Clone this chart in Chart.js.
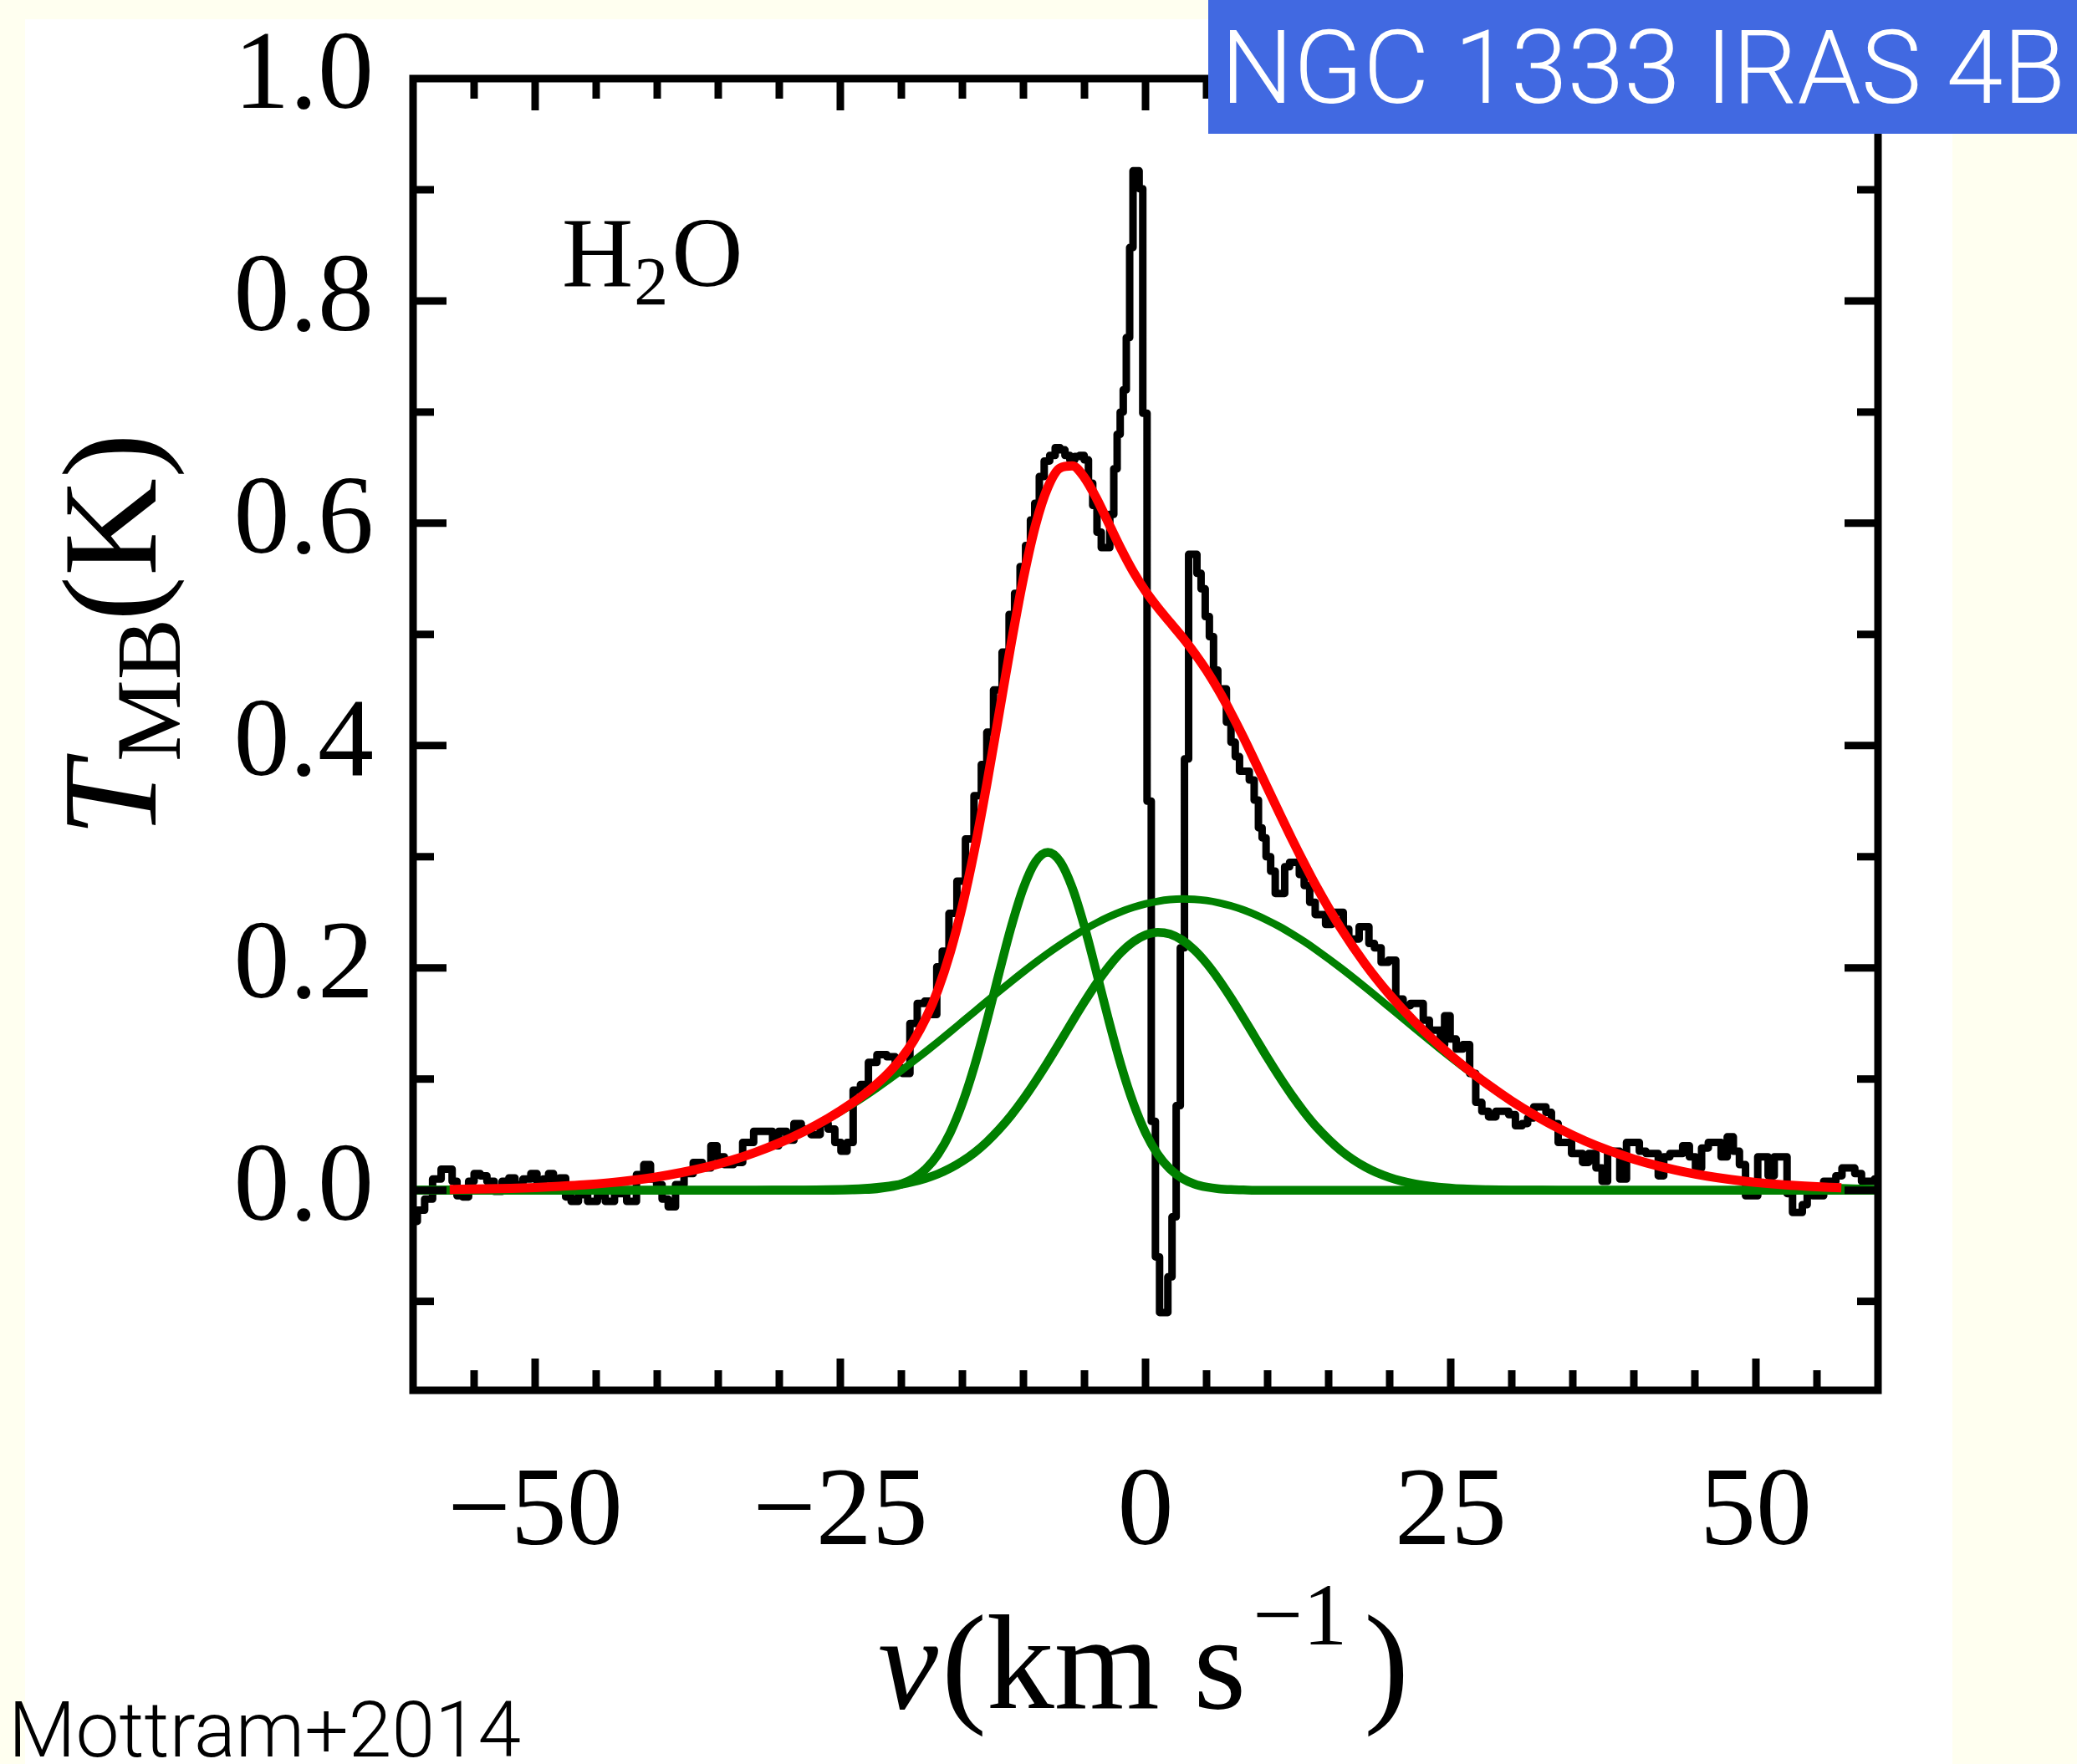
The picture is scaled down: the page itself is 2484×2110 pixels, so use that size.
<!DOCTYPE html>
<html>
<head>
<meta charset="utf-8">
<script src="https://cdn.jsdelivr.net/npm/chart.js@4/dist/chart.umd.min.js"></script>
<style>
  html, body { margin: 0; padding: 0; background: #FFFFF0; }
  canvas { display: block; }
</style>
</head>
<body>
<canvas id="c" width="2484" height="2110"></canvas>
<script>
// ---------------- DATA ----------------
const xTickLabels = { '-50': '\u221250', '-25': '\u221225', '0': '0', '25': '25', '50': '50' };
const yTickLabels = ['0.0', '0.2', '0.4', '0.6', '0.8', '1.0'];

// Observed H2O spectrum: velocity (km/s) and T_MB (K)
const specVel = [
  -60.0,-59.3,-58.8,-58.0,-57.4,-57.0,-56.6,-56.2,-55.7,-55.2,
  -54.8,-54.2,-53.7,-53.0,-52.4,-51.9,-51.4,-50.6,-50.1,-49.6,
  -49.1,-48.7,-48.3,-47.7,-47.3,-46.8,-46.1,-45.3,-44.5,-44.0,
  -43.0,-42.0,-41.4,-40.8,-40.3,-39.8,-39.4,-38.8,-38.2,-37.4,
  -36.7,-35.9,-35.3,-34.9,-34.1,-33.4,-32.6,-31.6,-30.8,-30.3,
  -29.8,-29.0,-28.6,-27.8,-27.0,-26.3,-25.7,-25.2,-24.7,-24.2,
  -23.7,-23.0,-22.4,-21.6,-20.8,-20.2,-19.6,-19.0,-18.4,-17.8,
  -17.3,-16.9,-16.4,-15.8,-15.1,-14.4,-13.7,-13.2,-12.8,-12.1,
  -11.4,-10.95,-10.5,-10.05,-9.6,-9.25,-8.9,-8.5,-8.1,-7.6,
  -7.2,-6.8,-6.4,-6.0,-5.6,-5.2,-4.85,-4.5,-4.15,-3.8,
  -3.45,-3.1,-2.75,-2.45,-2.2,-1.95,-1.7,-1.45,-1.15,-0.9,
  -0.65,-0.4,-0.05,0.3,0.64,0.98,1.32,1.66,2.0,2.34,
  2.68,3.02,3.36,3.7,4.04,4.38,4.72,5.06,5.4,5.74,
  6.1,6.45,6.8,7.2,7.5,7.9,8.3,8.7,9.1,9.4,
  9.7,10.05,10.45,10.8,11.2,11.6,12.0,12.4,12.8,13.2,
  13.7,14.1,14.5,15.0,15.5,16.0,16.4,16.9,17.3,17.7,
  18.1,18.5,19.0,19.6,20.2,20.8,21.4,22.0,22.5,23.0,
  23.5,24.0,24.3,24.7,25.2,25.7,26.3,26.8,27.3,27.8,
  28.4,29.0,29.5,30.0,30.6,31.1,31.5,32.1,32.6,33.0,
  33.5,34.1,34.6,35.2,35.6,36.0,36.6,37.2,37.6,38.1,
  38.6,39.1,39.7,40.2,40.7,41.3,41.8,42.2,42.7,43.2,
  43.7,44.3,44.8,45.3,45.8,46.4,46.9,47.4,47.9,48.4,
  48.9,49.4,49.9,50.4,50.8,51.2,51.8,52.3,52.8,53.2,
  53.6,54.0,54.4,54.9,55.3,55.8,56.3,56.8,57.3,57.8,
  58.4,58.9,59.4,60.0
];
const specTmb = [
  -0.028,-0.018,-0.008,0.010,0.019,0.019,0.008,-0.005,-0.006,0.008,
  0.015,0.013,0.008,-0.001,0.008,0.011,0.005,0.010,0.015,0.005,
  0.010,0.015,0.008,0.011,-0.006,-0.010,-0.004,-0.010,-0.005,-0.010,
  -0.003,-0.010,0.014,0.023,0.010,0.005,-0.008,-0.015,0.005,0.015,
  0.025,0.020,0.040,0.030,0.023,0.025,0.043,0.053,0.053,0.040,
  0.053,0.045,0.060,0.055,0.050,0.060,0.055,0.043,0.035,0.043,
  0.090,0.095,0.115,0.122,0.120,0.110,0.105,0.150,0.168,0.170,
  0.158,0.201,0.215,0.249,0.278,0.316,0.355,0.383,0.412,0.450,
  0.484,0.518,0.537,0.561,0.580,0.603,0.618,0.642,0.656,0.661,
  0.668,0.666,0.661,0.657,0.660,0.661,0.657,0.636,0.616,0.592,
  0.578,0.578,0.608,0.649,0.680,0.700,0.720,0.767,0.848,0.917,
  0.917,0.901,0.699,0.350,0.062,-0.060,-0.110,-0.110,-0.078,-0.024,
  0.076,0.218,0.388,0.572,0.572,0.555,0.541,0.516,0.498,0.468,
  0.451,0.451,0.421,0.403,0.390,0.377,0.377,0.369,0.351,0.326,
  0.317,0.300,0.287,0.267,0.267,0.291,0.295,0.295,0.284,0.274,
  0.259,0.248,0.248,0.239,0.250,0.250,0.235,0.226,0.226,0.237,
  0.237,0.222,0.218,0.205,0.207,0.172,0.166,0.168,0.168,0.153,
  0.144,0.144,0.131,0.157,0.136,0.127,0.131,0.105,0.079,0.071,
  0.066,0.071,0.071,0.068,0.058,0.060,0.065,0.075,0.075,0.070,
  0.060,0.043,0.043,0.033,0.033,0.025,0.033,0.020,0.008,0.035,
  0.035,0.010,0.043,0.043,0.035,0.033,0.033,0.013,0.030,0.033,
  0.033,0.040,0.030,0.020,0.038,0.043,0.043,0.030,0.048,0.035,
  0.023,-0.005,-0.005,0.030,0.030,0.013,0.030,0.030,-0.003,-0.020,
  -0.020,-0.013,-0.003,-0.005,-0.005,0.008,0.008,0.013,0.020,0.020,
  0.015,0.008,0.008,0.010
];

// Velocity grid on which the green fit components were read
const compVel = [
  -60,-58,-56,-54,-52,-50,-48,-46,-44,-42,-40,-38,-36,-34,-32,-30,-28,-26,
  -24,-23,-22,-21,-20,-19,-18,-17,-16,-15,-14,-13,-12,-11,-10,-9,-8,-7,-6,-5,-4,-3,-2,-1,
  0,1,2,3,4,5,6,7,8,9,10,11,12,13,14,
  16,18,20,22,24,26,28,30,32,34,36,38,40,42,44,46,48,50,52,54,56,58,60
];
// Narrow green component
const compNarrow = [
  0,0,0,0,0,0,0,0,0,0,0,0,0,0,0,0,0,0,
  0.0003,0.0006,0.0013,0.0028,0.0056,0.0107,0.0191,0.0323,0.0517,0.0783,0.1122,0.1522,0.1952,0.2370,0.2721,0.2957,0.3040,0.2957,0.2721,0.2370,0.1952,0.1522,0.1122,0.0783,
  0.0517,0.0323,0.0191,0.0107,0.0056,0.0028,0.0013,0.0006,0.0003,0,0,0,0,0,0,
  0,0,0,0,0,0,0,0,0,0,0,0,0,0,0,0,0,0,0,0,0,0,0
];
// Medium green component
const compMedium = [
  0,0,0,0,0,0,0,0,0,0,0,0,0,0,0,0.0001,0.0002,0.0005,
  0.0011,0.0017,0.0026,0.0038,0.0054,0.0077,0.0107,0.0146,0.0197,0.0261,0.0339,0.0434,0.0546,0.0675,0.0821,0.0982,0.1154,0.1334,0.1517,0.1695,0.1863,0.2013,0.2140,0.2235,
  0.2296,0.2320,0.2304,0.2250,0.2161,0.2041,0.1895,0.1730,0.1553,0.1371,0.1189,0.1015,0.0852,0.0703,0.0570,
  0.0357,0.0209,0.0114,0.0058,0.0028,0.0012,0.0005,0.0002,0.0001,0,0,0,0,0,0,0,0,0,0,0,0,0,0
];
// Broad green component
const compBroad = [
  0.0004,0.0005,0.0008,0.0012,0.0017,0.0024,0.0035,0.0048,0.0066,0.0090,0.0120,0.0159,0.0207,0.0266,0.0339,0.0424,0.0525,0.0641,
  0.0772,0.0843,0.0918,0.0996,0.1077,0.1161,0.1247,0.1335,0.1425,0.1516,0.1607,0.1699,0.1789,0.1878,0.1965,0.2049,0.2130,0.2206,0.2278,0.2345,0.2405,0.2459,0.2506,0.2545,
  0.2576,0.2599,0.2614,0.2620,0.2617,0.2606,0.2586,0.2558,0.2522,0.2478,0.2427,0.2370,0.2305,0.2236,0.2161,
  0.1999,0.1825,0.1644,0.1461,0.1282,0.1110,0.0949,0.0800,0.0666,0.0547,0.0443,0.0355,0.0280,0.0218,0.0168,0.0127,0.0095,0.0070,0.0051,0.0037,0.0026,0.0018,0.0013
];

// Red total fit
const fitVel = [
  -57,-56,-54,-52,-50,-48,-46,-44,-42,-40,-38,-36,-34,-32,-30,-28,-26,
  -24,-23,-22,-21,-20,-19,-18,-17,-16,-15,-14,-13,-12,-11,-10,-9,-8,-7,-6,-5,-4,-3,-2,-1,
  0,1,2,3,4,5,6,7,8,9,10,11,12,13,14,
  16,18,20,22,24,26,28,30,32,34,36,38,40,42,44,46,48,50,52,54,56,57
];
const fitTmb = [
  0.0007,0.0008,0.0012,0.0017,0.0024,0.0035,0.0048,0.0066,0.0090,0.0120,0.0159,0.0207,0.0266,0.0339,0.0425,0.0527,0.0646,
  0.0786,0.0866,0.0957,0.1062,0.1187,0.1345,0.1545,0.1804,0.2139,0.2560,0.3068,0.3655,0.4287,0.4923,0.5507,0.5988,0.6324,0.6497,0.6516,0.6410,0.6220,0.5994,0.5768,0.5563,
  0.5389,0.5242,0.5109,0.4977,0.4834,0.4675,0.4494,0.4294,0.4078,0.3849,0.3616,0.3385,0.3157,0.2939,0.2731,
  0.2356,0.2034,0.1758,0.1519,0.1310,0.1122,0.0954,0.0802,0.0667,0.0547,0.0443,0.0355,0.0280,0.0218,0.0168,0.0127,0.0095,0.0070,0.0051,0.0037,0.0026,0.0022
];

// ---------------- CHART ----------------
const pts = (xs, ys) => xs.map((x, i) => ({ x: x, y: ys[i] }));
const SERIF = '"Liberation Serif", "DejaVu Serif", serif';
const SANS = '"Roboto", "Liberation Sans", sans-serif';

const decor = {
  id: 'decor',
  beforeDraw(chart) {
    const c = chart.ctx;
    c.save();
    c.fillStyle = '#FFFFF0';
    c.fillRect(0, 0, chart.width, chart.height);
    c.fillStyle = '#FFFFFF';
    c.fillRect(30, 23, 2305, chart.height - 23);
    c.restore();
  },
  afterDatasetsDraw(chart) {
    const c = chart.ctx, a = chart.chartArea;
    const xs = chart.scales.x, ys = chart.scales.y;
    c.save();
    c.strokeStyle = '#000';
    c.lineWidth = 9;
    c.lineCap = 'butt';
    const seg = (x1, y1, x2, y2) => { c.beginPath(); c.moveTo(x1, y1); c.lineTo(x2, y2); c.stroke(); };
    xs.ticks.forEach(t => {
      if (t.value <= xs.min || t.value >= xs.max) return;
      const px = xs.getPixelForValue(t.value);
      const L = (Math.round(t.value) % 25 === 0) ? 38 : 24;
      seg(px, a.bottom, px, a.bottom - L);
      seg(px, a.top, px, a.top + L);
    });
    ys.ticks.forEach(t => {
      if (t.value <= ys.min || t.value >= ys.max) return;
      const py = ys.getPixelForValue(t.value);
      const L = (Math.round(t.value * 10) % 2 === 0) ? 40 : 25;
      seg(a.left, py, a.left + L, py);
      seg(a.right, py, a.right - L, py);
    });
    c.lineWidth = 9;
    c.lineJoin = 'miter';
    c.strokeRect(a.left, a.top, a.right - a.left, a.bottom - a.top);
    c.restore();
  },
  afterDraw(chart) {
    const c = chart.ctx;
    c.save();
    c.fillStyle = '#000';
    c.textAlign = 'left';
    c.textBaseline = 'alphabetic';

    // H2O label
    let x = 672;
    c.font = '118px ' + SERIF;
    c.fillText('H', x, 342); x += c.measureText('H').width + 1;
    c.font = '82px ' + SERIF;
    c.fillText('2', x, 364); x += c.measureText('2').width + 4;
    c.font = '118px ' + SERIF;
    c.fillText('O', x, 342);

    // Y-axis title  T_MB(K), rotated
    c.save();
    c.translate(186, 1001);
    c.rotate(-Math.PI / 2);
    c.font = 'italic 162px ' + SERIF;
    c.fillText('T', 0, 0);
    c.font = '110px ' + SERIF;
    c.fillText('MB', 90, 29);
    c.font = '162px ' + SERIF;
    c.fillText('(K)', 258, 0);
    c.restore();

    // X-axis title  v(km s^-1)
    x = 1050;
    c.font = 'italic 162px ' + SERIF;
    c.fillText('v', x, 2043); x += c.measureText('v').width + 4;
    c.font = '162px ' + SERIF;
    c.fillText('(km s', x, 2043); x += c.measureText('(km s').width + 8;
    c.font = '106px ' + SERIF;
    c.fillText('\u22121', x, 1967); x += c.measureText('\u22121').width + 20;
    c.font = '162px ' + SERIF;
    c.fillText(')', x, 2043);

    // Credit
    c.font = '300 93px ' + SANS;
    c.fillText('Mottram+2014', 10, 2101);

    // Source box
    c.fillStyle = '#4169E1';
    c.fillRect(1445, 0, 2484 - 1445, 160);
    c.fillStyle = '#FFFFFF';
    c.font = '300 122px ' + SANS;
    c.fillText('NGC 1333 IRAS 4B', 1460, 123);
    c.restore();
  }
};

new Chart(document.getElementById('c'), {
  type: 'line',
  data: {
    datasets: [
      { label: 'H2O', data: pts(specVel, specTmb), borderColor: '#000000', borderWidth: 9,
        stepped: 'middle', pointRadius: 0, fill: false, order: 3, borderJoinStyle: 'round' },
      { label: 'Narrow component', data: pts(compVel, compNarrow), borderColor: '#008000', borderWidth: 10.5,
        cubicInterpolationMode: 'monotone', pointRadius: 0, fill: false, order: 2 },
      { label: 'Medium component', data: pts(compVel, compMedium), borderColor: '#008000', borderWidth: 10.5,
        cubicInterpolationMode: 'monotone', pointRadius: 0, fill: false, order: 2 },
      { label: 'Broad component', data: pts(compVel, compBroad), borderColor: '#008000', borderWidth: 9,
        cubicInterpolationMode: 'monotone', pointRadius: 0, fill: false, order: 2 },
      { label: 'Total fit', data: pts(fitVel, fitTmb), borderColor: '#FF0000', borderWidth: 11,
        cubicInterpolationMode: 'monotone', pointRadius: 0, fill: false, order: 1 }
    ]
  },
  options: {
    responsive: false,
    devicePixelRatio: 1,
    animation: false,
    events: [],
    layout: { padding: { left: 0, top: 94, right: 238, bottom: 0 } },
    plugins: { legend: { display: false }, tooltip: { enabled: false }, title: { display: false } },
    scales: {
      x: {
        type: 'linear', position: 'bottom', min: -60, max: 60,
        grid: { display: false, drawTicks: false }, border: { display: false },
        ticks: {
          stepSize: 5, includeBounds: false, autoSkip: false, maxRotation: 0, minRotation: 0,
          padding: 68, color: '#000', font: { family: SERIF, size: 134 },
          callback: (v) => xTickLabels[String(Math.round(v))] !== undefined && Math.round(v) % 25 === 0 ? xTickLabels[String(Math.round(v))] : ''
        },
        afterFit: (s) => { s.height = 447; s.paddingLeft = 0; s.paddingRight = 0; }
      },
      y: {
        type: 'linear', position: 'left', min: -0.18, max: 1.0,
        grid: { display: false, drawTicks: false }, border: { display: false },
        ticks: {
          stepSize: 0.1, includeBounds: false, autoSkip: false,
          padding: 47, color: '#000', font: { family: SERIF, size: 134 },
          callback: (v) => { const k = Math.round(v * 10); return (k >= 0 && k % 2 === 0) ? yTickLabels[k / 2] : ''; }
        },
        afterFit: (s) => { s.width = 494; s.paddingTop = 0; s.paddingBottom = 0; }
      }
    }
  },
  plugins: [decor]
});
</script>
</body>
</html>
